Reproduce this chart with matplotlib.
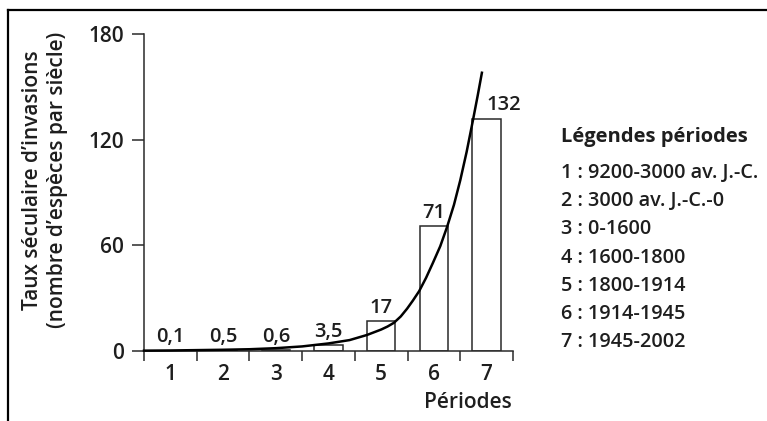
import matplotlib
matplotlib.use("Agg")
import matplotlib.pyplot as plt
from matplotlib.lines import Line2D
import numpy as np

# ---- data ----
periods = [1, 2, 3, 4, 5, 6, 7]
rates = [0.1, 0.5, 0.6, 3.5, 17, 71, 132]
rate_labels = ["0,1", "0,5", "0,6", "3,5", "17", "71", "132"]

period_names = ["1 : 9200-3000 av. J.-C.", "2 : 3000 av. J.-C.-0", "3 : 0-1600",
                "4 : 1600-1800", "5 : 1800-1914", "6 : 1914-1945", "7 : 1945-2002"]

# trend curve
curve_x = [0.5, 1.0, 1.5, 2.0, 2.5, 3.0, 3.5, 4.0, 4.4, 4.73, 5.0, 5.12, 5.24,
           5.37, 5.49, 5.6, 5.72, 5.85, 5.98, 6.12, 6.25, 6.38, 6.5, 6.62, 6.74, 6.83, 6.91]
curve_y = [0.2, 0.3, 0.5, 0.7, 1.0, 1.6, 2.6, 4.3, 6.2, 9.1, 12.2, 13.9, 16.0,
           19.6, 24.0, 28.6, 34.0, 41.5, 50.0, 59.5, 70.5, 83.0, 97.0, 113.0, 131.0, 145.0, 158.0]

yticks = [0, 60, 120, 180]

plt.rcParams['font.family'] = ['Open Sans', 'DejaVu Sans']
plt.rcParams['font.weight'] = 'semibold'
txt = '#1e1e1e'
W, H = 767, 421
fs = 15

fig = plt.figure(figsize=(7.67, 4.21), dpi=100)
ax = fig.add_axes([144 / W, 1 - 351 / H, (513 - 144) / W, (351 - 34) / H])

ax.bar(periods, rates, width=0.54, facecolor='white', edgecolor='#2a2a2a',
       linewidth=1.1, zorder=2)
ax.plot(curve_x, curve_y, color='black', lw=1.8, zorder=3, clip_on=False,
        solid_joinstyle='round')

for i, lab in enumerate(rate_labels):
    dx = 12 if i == 6 else 0
    ax.annotate(lab, (periods[i], rates[i]), xytext=(dx, 6),
                textcoords='offset points', ha='center', va='baseline',
                fontsize=14.5, color=txt)

ax.set_xlim(0.5, 7.5)
ax.set_ylim(0, 180)
for s in ['top', 'right']:
    ax.spines[s].set_visible(False)
for s in ['left', 'bottom']:
    ax.spines[s].set_linewidth(1.1)
    ax.spines[s].set_color('#2a2a2a')

ax.set_xticks(np.arange(0.5, 8, 1))
ax.set_xticklabels([])
ax.set_xticks(periods, minor=True)
ax.set_xticklabels([str(p) for p in periods], minor=True)
ax.tick_params(axis='x', which='major', length=7.5, width=1.1, color='#2a2a2a')
ax.tick_params(axis='x', which='minor', length=0, pad=9, labelsize=fs,
               labelcolor=txt)
ax.set_yticks(yticks)
ax.tick_params(axis='y', length=8.5, width=1.1, color='#2a2a2a', pad=6,
               labelsize=fs, labelcolor=txt)

fig.text(512 / W, 1 - 403 / H, "Périodes", ha='right', va='center',
         fontsize=fs, color=txt)

# y label, two lines
fig.text(33 / W, 1 - 180 / H, "Taux séculaire d’invasions", rotation=90,
         ha='center', va='center', fontsize=fs, color=txt)
fig.text(58 / W, 1 - 180 / H, "(nombre d’espèces par siècle)", rotation=90,
         ha='center', va='center', fontsize=fs, color=txt)

# period legend
fig.text(561 / W, 1 - 137 / H, "Légendes périodes", ha='left', va='center',
         fontsize=14.5, fontweight='bold', color=txt)
for i, name in enumerate(period_names):
    fig.text(561 / W, 1 - (173 + 28.2 * i) / H, name, ha='left', va='center',
             fontsize=14.3, color=txt)

# frame
fig.add_artist(Line2D([8 / W, 1], [1 - 10 / H, 1 - 10 / H], transform=fig.transFigure,
                      color='black', lw=1.6))
fig.add_artist(Line2D([8 / W, 8 / W], [0, 1 - 10 / H], transform=fig.transFigure,
                      color='black', lw=1.6))

fig.savefig("out.png", dpi=100)
